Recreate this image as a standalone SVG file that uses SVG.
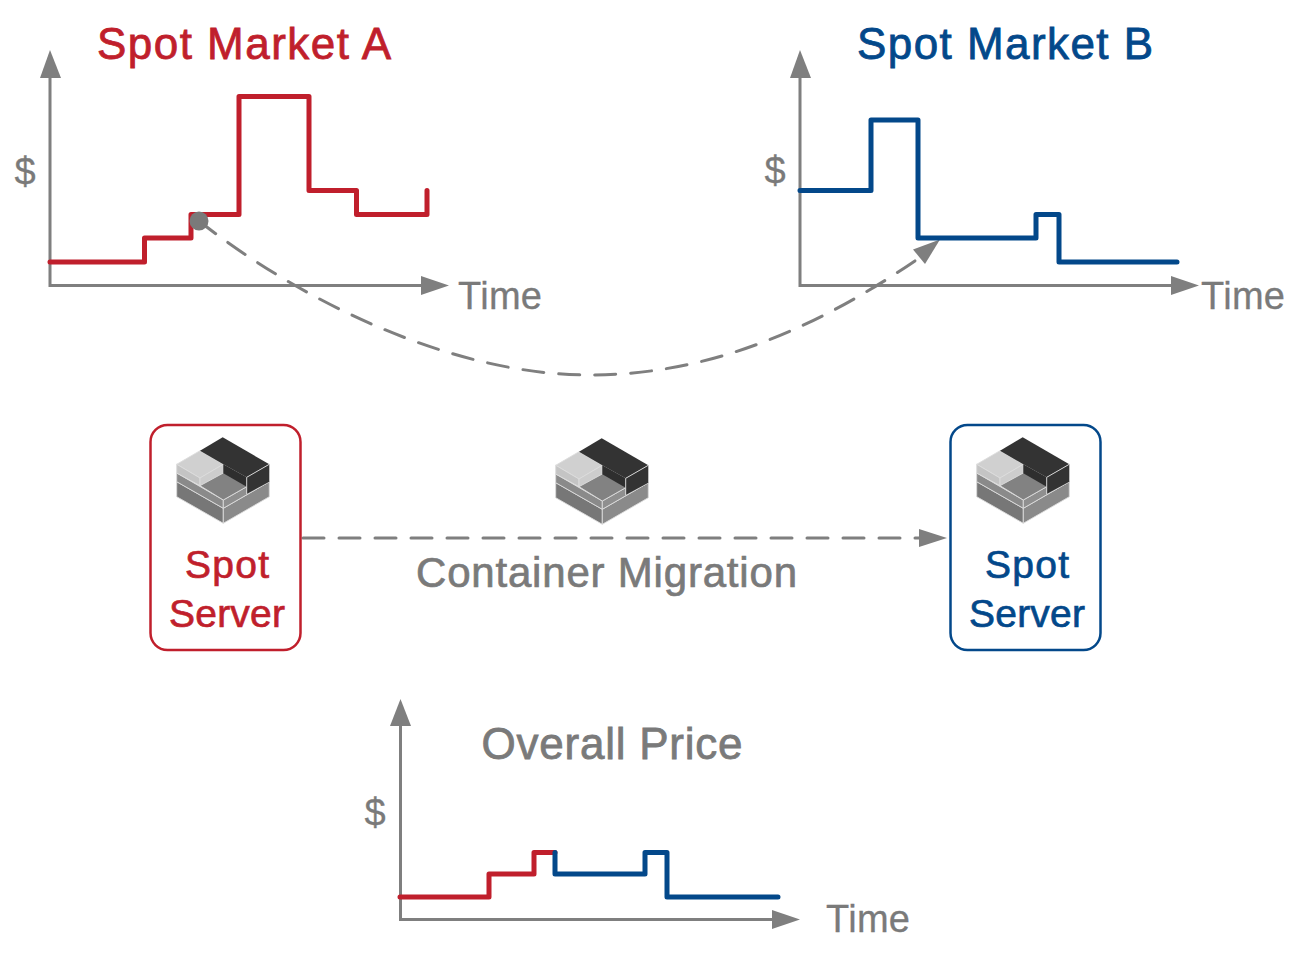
<svg xmlns="http://www.w3.org/2000/svg" xmlns:xlink="http://www.w3.org/1999/xlink" width="1299" height="958" viewBox="0 0 1299 958">
<style>
text{font-family:"Liberation Sans",Arial,sans-serif;text-anchor:middle}
.t{font-size:44px;stroke-width:.8px}
.s{font-size:39px;stroke-width:.7px}
.m{font-size:42px;stroke-width:.7px}
.l{font-size:38px;stroke-width:.3px}
.g{fill:#7a7a7a;stroke:#7a7a7a}.r{fill:#c01f2c;stroke:#c01f2c}.b{fill:#03488a;stroke:#03488a}
.axis{fill:none;stroke:#7f7f7f;stroke-width:3}
.ar{fill:#7f7f7f}
.red{fill:none;stroke:#c01f2c;stroke-width:5;stroke-linejoin:round;stroke-linecap:round}
.blue{fill:none;stroke:#03488a;stroke-width:5;stroke-linejoin:round;stroke-linecap:round}
.dash{fill:none;stroke:#7f7f7f;stroke-width:3;stroke-dasharray:21 15;stroke-linecap:round}
.e{stroke:#dcdcdc;stroke-width:.9;stroke-linejoin:round}
</style>
<defs>
<g id="icon">
<path class="e" fill="#777" d="M176.700 481.700L223.300 508.300V523.300L176.700 496.700Z"/>
<path class="e" fill="#8a8a8a" d="M269.300 481.700L223.300 508.300V523.300L269.300 496.700Z"/>
<path class="e" fill="#8a8a8a" d="M176.700 473L223.300 500V508.300L176.700 481.700Z"/>
<path class="e" fill="#8f8f8f" d="M223.300 500L246.700 486.700V494L269.300 481.700L223.300 508.300Z"/>
<path class="e" fill="#828282" d="M200 478L223.300 464.300L246.700 477.300V486.700L223.300 500L200 485.700Z"/>
<path class="e" fill="#d0d0d0" d="M176.700 464.300L200 450.700L223.300 464.300L200 478Z"/>
<path class="e" fill="#c4c4c4" d="M176.700 464.300L200 478V485.700L176.700 473Z"/>
<path class="e" fill="#cdcdcd" d="M200 478L223.300 464.300V473L200 485.700Z"/>
<path fill="#333" d="M200 450.700L222.700 437.300L269.300 464.300L246.700 477.300L223.300 464.300Z"/>
<path fill="#2e2e2e" d="M223.300 464.300L246.700 477.300V486.700L223.300 473.300Z"/>
<path fill="#333" d="M246.700 477.300L269.300 464.300V481.700L246.700 494Z"/>
<path class="e" fill="none" d="M246.700 477.300L269.300 464.300M246.700 477.300V494"/>
</g>
</defs>

<g id="connectors">
<path class="dash" d="M199 221C300 300 450 375 590 375C720 375 830 320 925 254"/>
<path class="ar" d="M940 239.500L913 249.500L925 264Z"/>
<path class="dash" d="M303 538H925"/>
<path class="ar" d="M947 538L919 529V547Z"/>
</g>

<g id="chart-a">
<path class="axis" d="M50 72V285.500H425"/>
<path class="ar" d="M50 50L40 78H61Z"/><path class="ar" d="M449 285.500L421 276V295Z"/>
<path class="red" d="M50 262H144.500V238H191V214.500H239V96.500H309V190.500H356.500V214.500H427V190.500"/>
<circle cx="199" cy="221" r="9.500" fill="#7a7a7a"/>
<text class="l g" x="25" y="185">$</text>
<text class="l g" x="500" y="309" textLength="84">Time</text>
<text class="t r" x="244" y="59" textLength="294">Spot Market A</text>
</g>

<g id="chart-b">
<path class="axis" d="M800 72V285.500H1175"/>
<path class="ar" d="M800 50L790 78H811Z"/><path class="ar" d="M1199 285.500L1171 276V295Z"/>
<path class="blue" d="M800 190.500H871V120H918V238H1036V214.500H1059V262H1177"/>
<text class="l g" x="775" y="184">$</text>
<text class="l g" x="1243" y="309" textLength="84">Time</text>
<text class="t b" x="1005" y="59" textLength="296">Spot Market B</text>
</g>

<g id="server-a">
<rect x="150.500" y="425" width="150" height="225" rx="17" fill="#fff" stroke="#c01f2c" stroke-width="2.500"/>
<use xlink:href="#icon" href="#icon"/>
<text class="s r" x="227" y="578" textLength="84">Spot</text>
<text class="s r" x="227" y="627" textLength="116">Server</text>
</g>

<g id="migrating-container">
<use xlink:href="#icon" href="#icon" x="379" y="1"/>
<text class="m g" x="606.500" y="587" textLength="381">Container Migration</text>
</g>

<g id="server-b">
<rect x="950.500" y="425" width="150" height="225" rx="17" fill="#fff" stroke="#03488a" stroke-width="2.500"/>
<use xlink:href="#icon" href="#icon" x="800"/>
<text class="s b" x="1027" y="578" textLength="84">Spot</text>
<text class="s b" x="1027" y="627" textLength="116">Server</text>
</g>

<g id="chart-overall">
<path class="axis" d="M400.500 722V919.500H776"/>
<path class="ar" d="M400.500 699L390 726H411Z"/><path class="ar" d="M800 919.500L772 910V929Z"/>
<path class="red" d="M400 897H489V874H534V852.500H555"/>
<path class="blue" d="M555 852.500V874H645V852.500H667V897H778"/>
<text class="l g" x="375" y="826">$</text>
<text class="l g" x="868" y="932" textLength="84">Time</text>
<text class="t g" x="612" y="759" textLength="261">Overall Price</text>
</g>
</svg>
